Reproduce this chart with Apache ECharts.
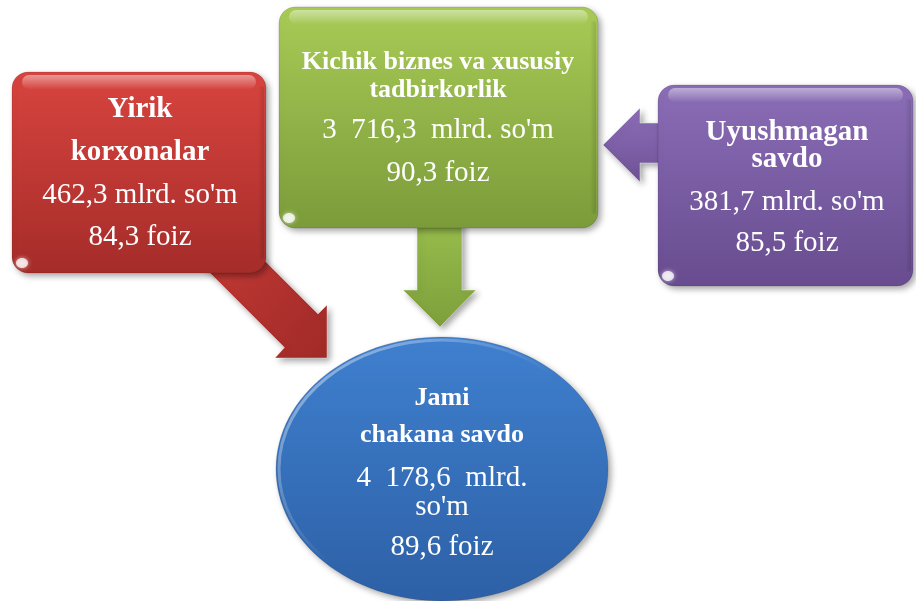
<!DOCTYPE html>
<html><head><meta charset="utf-8">
<script src="https://cdn.jsdelivr.net/npm/echarts@6/dist/echarts.min.js"></script>
<style>html,body{margin:0;padding:0;background:#fff}#c{width:916px;height:601px}</style>
</head><body><div id="c"></div>
<script>
// ---- data ----
const titles = [["Yirik", "korxonalar"], ["Kichik biznes va xususiy", "tadbirkorlik"], ["Uyushmagan", "savdo"], ["Jami", "chakana savdo"]];
const amounts = ["462,3", "3  716,3", "381,7", "4  178,6"];
const unit = "mlrd. so'm";
const percents = ["84,3", "90,3", "85,5", "89,6"];
const pctWord = "foiz";

// ---- layout / style ----
const boxes = [
  {x: 12, y: 72, w: 254, h: 201, c1: '#d8443f', c2: '#a52c29', tSize: 29, tY: [110, 153], vY: [195, 237], cx: 140},
  {x: 279, y: 7, w: 319, h: 221, c1: '#a8cb56', c2: '#7b9b3a', tSize: 26, tY: [62, 90], vY: [130, 173], cx: 438},
  {x: 658, y: 85, w: 255, h: 201, c1: '#8a6db6', c2: '#684c8f', tSize: 29, tY: [133, 160], vY: [202, 243], cx: 787}
];
const ell = {cx: 442, cy: 469, rx: 166, ry: 132, c1: '#3f80cf', c2: '#2d60a6', tSize: 26, tY: [398, 435], vY: [478, 507, 547]};

function grad(c1, c2, x2, y2) {
  return new echarts.graphic.LinearGradient(0, 0, x2 === undefined ? 0 : x2, y2 === undefined ? 1 : y2,
    [{offset: 0, color: c1}, {offset: 1, color: c2}]);
}
const FONT = '"Liberation Serif", "Times New Roman", serif';
const els = [];
const shadow = {shadowBlur: 6, shadowOffsetX: 3, shadowOffsetY: 3, shadowColor: 'rgba(0,0,0,0.35)'};

// arrows
els.push({type: 'polygon', z: 1,
  shape: {points: [[230, 226], [318, 314], [327, 305], [327, 358], [275, 358], [284.5, 347.5], [180, 243]]},
  style: Object.assign({fill: grad('#c93c38', '#a02a27', 1, 1), stroke: 'rgba(255,255,255,0.35)', lineWidth: 1}, shadow)});
els.push({type: 'polygon', z: 1,
  shape: {points: [[417, 220], [462, 220], [462, 290], [476, 290], [440, 327], [403, 290], [417, 290]]},
  style: Object.assign({fill: grad('#98bd4c', '#7e9f3c'), stroke: 'rgba(255,255,255,0.4)', lineWidth: 1}, shadow)});
els.push({type: 'polygon', z: 1,
  shape: {points: [[665, 123], [640, 123], [640, 108], [603, 145], [640, 182], [640, 163], [665, 163]]},
  style: Object.assign({fill: grad('#8c6eb8', '#6e5296'), stroke: 'rgba(255,255,255,0.4)', lineWidth: 1}, shadow)});

// boxes
boxes.forEach(function (b, i) {
  els.push({type: 'rect', z: 2, shape: {x: b.x, y: b.y, width: b.w, height: b.h, r: 16},
    style: Object.assign({fill: grad(b.c1, b.c2), stroke: 'rgba(0,0,0,0.12)', lineWidth: 1}, shadow)});
  els.push({type: 'rect', z: 3, shape: {x: b.x + 10, y: b.y + 3, width: b.w - 20, height: 14, r: 7},
    style: {fill: grad('rgba(255,255,255,0.45)', 'rgba(255,255,255,0.02)')}});
  els.push({type: 'rect', z: 3, shape: {x: b.x + b.w - 8, y: b.y + 14, width: 6, height: b.h - 28, r: 3},
    style: {fill: grad('rgba(0,0,0,0.0)', 'rgba(0,0,0,0.12)', 1, 0)}});
  els.push({type: 'ellipse', z: 3, shape: {cx: b.x + 10, cy: b.y + b.h - 10, rx: 6, ry: 5},
    style: {fill: 'rgba(255,255,255,0.75)', shadowBlur: 4, shadowColor: 'rgba(255,255,255,0.8)'}});
  b.tY.forEach(function (y, k) {
    els.push({type: 'text', z: 5, x: b.cx, y: y,
      style: {text: titles[i][k], fill: '#fff', font: 'bold ' + b.tSize + 'px ' + FONT, align: 'center', verticalAlign: 'middle'}});
  });
  els.push({type: 'text', z: 5, x: b.cx, y: b.vY[0],
    style: {text: amounts[i] + (i === 1 ? '  ' : ' ') + unit, fill: '#fff', font: '29px ' + FONT, align: 'center', verticalAlign: 'middle'}});
  els.push({type: 'text', z: 5, x: b.cx, y: b.vY[1],
    style: {text: percents[i] + ' ' + pctWord, fill: '#fff', font: '29px ' + FONT, align: 'center', verticalAlign: 'middle'}});
});

// ellipse
els.push({type: 'ellipse', z: 2, shape: {cx: ell.cx, cy: ell.cy, rx: ell.rx, ry: ell.ry},
  style: Object.assign({fill: grad(ell.c1, ell.c2), stroke: 'rgba(0,0,0,0.12)', lineWidth: 1}, shadow)});
els.push({type: 'ellipse', z: 3, shape: {cx: ell.cx, cy: ell.cy, rx: ell.rx - 3, ry: ell.ry - 3},
  style: {fill: 'none', stroke: grad('rgba(255,255,255,0.55)', 'rgba(255,255,255,0)', 0.4, 0.6), lineWidth: 3}});
const unitParts = unit.split(' ');
const ellLines = [amounts[3] + '  ' + unitParts[0], unitParts[1], percents[3] + ' ' + pctWord];
ell.tY.forEach(function (y, k) {
  els.push({type: 'text', z: 5, x: ell.cx, y: y,
    style: {text: titles[3][k], fill: '#fff', font: 'bold ' + ell.tSize + 'px ' + FONT, align: 'center', verticalAlign: 'middle'}});
});
ell.vY.forEach(function (y, k) {
  els.push({type: 'text', z: 5, x: ell.cx, y: y,
    style: {text: ellLines[k], fill: '#fff', font: '29px ' + FONT, align: 'center', verticalAlign: 'middle'}});
});

const chart = echarts.init(document.getElementById('c'));
chart.setOption({backgroundColor: '#fff', animation: false, graphic: {elements: els}});
</script>
</body></html>
